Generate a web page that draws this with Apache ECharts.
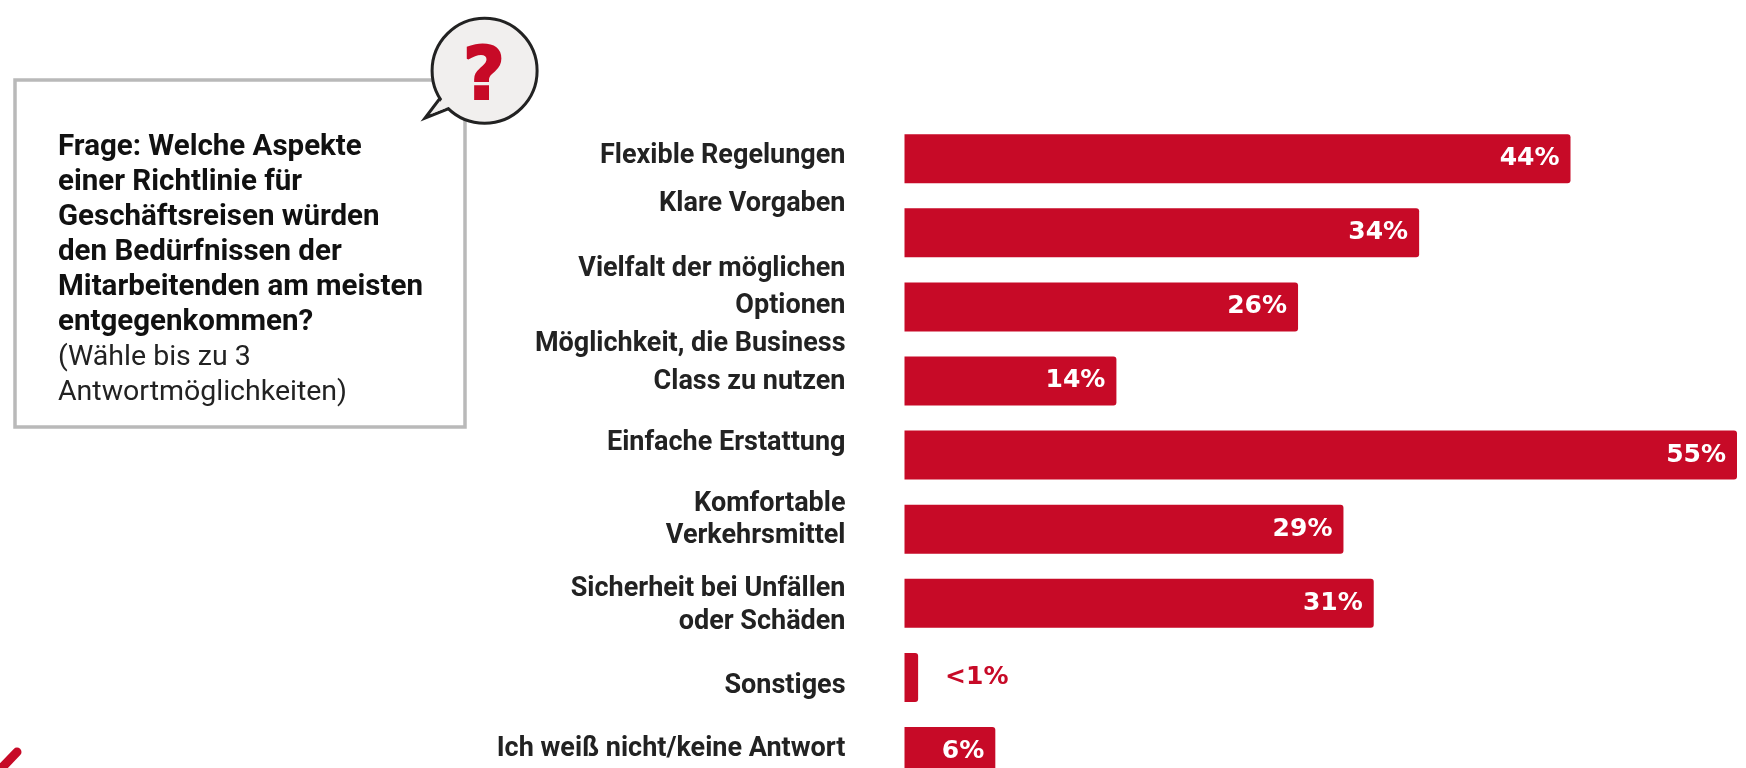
<!DOCTYPE html>
<html>
<head>
<meta charset="utf-8">
<title>Richtlinie für Geschäftsreisen</title>
<script src="https://cdn.jsdelivr.net/npm/echarts@6/dist/echarts.min.js"></script>
<style>
html, body { margin: 0; padding: 0; background: #fff; }
#chart { width: 1746px; height: 768px; }
</style>
</head>
<body>
<div id="chart"></div>
<script>
const categories = [
    "Flexible Regelungen",
    "Klare Vorgaben",
    "Vielfalt der möglichen\nOptionen",
    "Möglichkeit, die Business\nClass zu nutzen",
    "Einfache Erstattung",
    "Komfortable\nVerkehrsmittel",
    "Sicherheit bei Unfällen\noder Schäden",
    "Sonstiges",
    "Ich weiß nicht/keine Antwort",
];
const values = [44, 34, 26, 14, 55, 29, 31, 0.9, 6];
const valueLabels = ["44%", "34%", "26%", "14%", "55%", "29%", "31%", "<1%", "6%"];
const questionBold = [
    "Frage: Welche Aspekte",
    "einer Richtlinie für",
    "Geschäftsreisen würden",
    "den Bedürfnissen der",
    "Mitarbeitenden am meisten",
    "entgegenkommen?",
];
const questionNote = ["(Wähle bis zu 3", "Antwortmöglichkeiten)"];

// the category labels do not sit centred on their bars in the original
const labelShift = [-2, -29, -19, -18, -12, -9, 2, 9, -2];
const labelLineHeight = [30, 30, 37, 38, 30, 32, 33, 30, 30];

const RED = "#c70a27";
const FONT = "Roboto, 'Open Sans', sans-serif";
const LABEL_SIZE = 27;

const rich = {};
categories.forEach((c, i) => {
    rich["t" + i] = {
        fontFamily: FONT,
        fontWeight: 700,
        fontSize: LABEL_SIZE,
        color: "#222222",
        align: "right",
        lineHeight: labelLineHeight[i],
    };
    rich["g" + i] = {
        fontSize: 1,
        height: Math.abs(labelShift[i]) * 2,
        lineHeight: Math.abs(labelShift[i]) * 2,
    };
});

const seriesData = values.map((v, i) => {
    if (valueLabels[i].charAt(0) === "<") {
        return {
            value: v,
            label: {
                position: "right",
                distance: 27,
                color: RED,
                textBorderColor: "#ffffff",
                textBorderWidth: 3,
            },
        };
    }
    return { value: v };
});

const myChart = echarts.init(document.getElementById("chart"));
myChart.setOption({
    animation: false,
    backgroundColor: "#ffffff",
    grid: { left: 904.5, top: 121.6, width: 832.5, height: 667, outerBoundsMode: "none" },
    xAxis: { type: "value", min: 0, max: 55, show: false },
    yAxis: {
        type: "category",
        inverse: true,
        data: categories,
        axisLine: { show: false },
        axisTick: { show: false },
        axisLabel: {
            margin: 59,
            align: "right",
            formatter: function (value, index) {
                const body = value.split("\n").map((l) => "{t" + index + "|" + l + "}").join("\n");
                const gap = "{g" + index + "| }";
                return labelShift[index] < 0 ? body + "\n" + gap : gap + "\n" + body;
            },
            rich: rich,
        },
    },
    series: [{
        type: "bar",
        barWidth: 49,
        data: seriesData,
        itemStyle: { color: RED, borderRadius: [0, 3, 3, 0] },
        label: {
            show: true,
            position: "insideRight",
            distance: 11,
            fontFamily: "'DejaVu Sans', sans-serif",
            fontWeight: 700,
            fontSize: 25,
            color: "#ffffff",
            formatter: (p) => valueLabels[p.dataIndex],
        },
    }],
    graphic: [
        {
            type: "rect",
            shape: { x: 15, y: 80, width: 450, height: 347 },
            style: { fill: "#ffffff", stroke: "#b9b9b9", lineWidth: 3.5 },
            z: 1,
        },
        {
            type: "text",
            x: 58,
            y: 130,
            z: 2,
            style: {
                text: questionBold.map((l) => "{b|" + l + "}").concat(questionNote.map((l) => "{n|" + l + "}")).join("\n"),
                rich: {
                    b: { fontFamily: FONT, fontWeight: 700, fontSize: 29.5, lineHeight: 35, fill: "#111111" },
                    n: { fontFamily: FONT, fontWeight: 400, fontSize: 28.5, lineHeight: 35, fill: "#222222" },
                },
            },
        },
        {
            // bubble tail
            type: "polygon",
            z: 3,
            shape: { points: [[441, 97], [425, 118], [450, 108]] },
            style: { fill: "#f1efee", stroke: "#222222", lineWidth: 3, lineJoin: "miter" },
        },
        {
            type: "circle",
            z: 3,
            shape: { cx: 484.6, cy: 70.7, r: 52.5 },
            style: { fill: "#f1efee", stroke: "#222222", lineWidth: 3 },
        },
        {
            // covers the tail stroke where it joins the circle
            type: "polygon",
            z: 3,
            shape: { points: [[443, 98], [431, 114], [451, 106], [455, 94]] },
            style: { fill: "#f1efee" },
        },
        {
            type: "text",
            z: 4,
            x: 484,
            y: 80,
            style: {
                text: "?",
                fontFamily: "'DejaVu Sans', sans-serif",
                fontWeight: 700,
                fontSize: 73,
                fill: RED,
                stroke: RED,
                lineWidth: 2,
                align: "center",
                verticalAlign: "middle",
            },
        },
        {
            // start of a red check mark cut off by the picture edge
            type: "line",
            z: 4,
            shape: { x1: 17, y1: 752, x2: -6, y2: 776 },
            style: { stroke: RED, lineWidth: 9, lineCap: "round" },
        },
    ],
});
</script>
</body>
</html>
